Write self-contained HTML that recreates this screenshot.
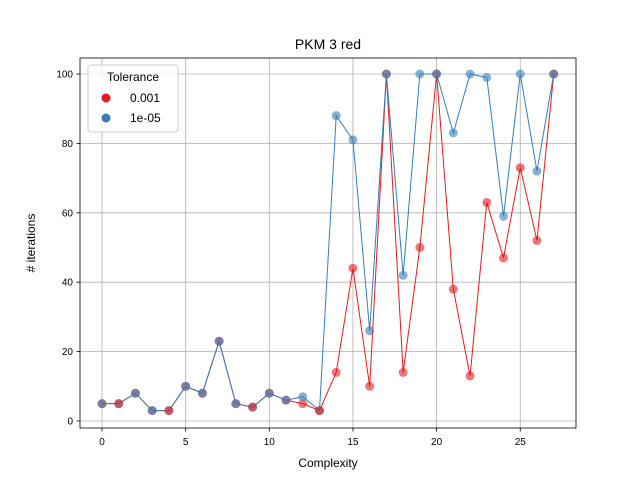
<!DOCTYPE html>
<html><head><meta charset="utf-8"><style>body{margin:0;background:#fff}svg{font-family:"Liberation Sans","DejaVu Sans",sans-serif}</style></head>
<body>
<svg id="chart" width="640" height="480">
<rect x="0" y="0" width="640" height="480" fill="#fff"/>
<text x="328" y="49" font-size="14" text-anchor="middle">PKM 3 red</text>
<g id="grid"></g>
<g id="series"></g>
<rect x="80" y="58" width="496" height="370" fill="none" stroke="#000" stroke-width="0.8"/>
<g id="ticks"></g>
<text x="328" y="467" font-size="12" text-anchor="middle">Complexity</text>
<text transform="translate(35,243) rotate(-90)" font-size="12" text-anchor="middle"># iterations</text>
<g>
<rect x="88" y="65" width="90" height="67" rx="3" fill="#fff" fill-opacity="0.8" stroke="#ccc"/>
<text x="133" y="81" font-size="12" text-anchor="middle">Tolerance</text>
<circle cx="106" cy="98" r="4.5" fill="#e41a1c"/>
<text x="130" y="102" font-size="12">0.001</text>
<circle cx="106" cy="118" r="4.5" fill="#377eb8"/>
<text x="130" y="122" font-size="12">1e-05</text>
</g>
</svg>
<script>
const categories=[0,1,2,3,4,5,6,7,8,9,10,11,12,13,14,15,16,17,18,19,20,21,22,23,24,25,26,27];
const redValues=[5,5,8,3,3,10,8,23,5,4,8,6,5,3,14,44,10,100,14,50,100,38,13,63,47,73,52,100];
const blueValues=[5,5,8,3,3,10,8,23,5,4,8,6,7,3,88,81,26,100,42,100,100,83,100,99,59,100,72,100];
const xTicks=[0,5,10,15,20,25];
const yTicks=[0,20,40,60,80,100];
const redOnTop=[1,4,9,13];
const NS="http://www.w3.org/2000/svg";
const xs=v=>102+v*16.73, ys=v=>421-v*3.47;
function mk(t,a,p){const e=document.createElementNS(NS,t);for(const k in a)e.setAttribute(k,a[k]);p.appendChild(e);return e;}
const grid=document.getElementById('grid'),ticks=document.getElementById('ticks'),ser=document.getElementById('series');
xTicks.forEach(t=>{const x=xs(t);
 const g=mk('line',{x1:x,x2:x,y1:58,y2:428,stroke:'#b0b0b0','stroke-width':0.8},grid);
 
 
 mk('line',{x1:x,x2:x,y1:428,y2:431.5,stroke:'#000','stroke-width':0.8},ticks);
 const l=mk('text',{x:x,y:445,'font-size':10,'text-anchor':'middle'},ticks);l.textContent=t;
 
 });
yTicks.forEach(t=>{const y=ys(t);
 const g=mk('line',{x1:80,x2:576,y1:y,y2:y,stroke:'#b0b0b0','stroke-width':0.8},grid);
 
 
 mk('line',{x1:76.5,x2:80,y1:y,y2:y,stroke:'#000','stroke-width':0.8},ticks);
 const l=mk('text',{x:73,y:y+3.5,'font-size':10,'text-anchor':'end'},ticks);l.textContent=t;
 
 });
function line(vals,color,name){
 const pts=vals.map((v,i)=>xs(categories[i])+','+ys(v)).join(' ');
 const pl=mk('polyline',{points:pts,fill:'none',stroke:color,'stroke-width':1},ser);
 
 
}
function pt(vals,i,color,name){
 const c=mk('circle',{cx:xs(categories[i]),cy:ys(vals[i]),r:4.5,fill:color,'fill-opacity':0.6},ser);
 
 
}
line(redValues,'#e41a1c','tol-0.001');
redValues.forEach((v,i)=>{if(!redOnTop.includes(i))pt(redValues,i,'#e41a1c','tol-0.001');});
line(blueValues,'#377eb8','tol-1e-05');
blueValues.forEach((v,i)=>pt(blueValues,i,'#377eb8','tol-1e-05'));
redOnTop.forEach(i=>pt(redValues,i,'#e41a1c','tol-0.001'));
</script>
</body></html>
